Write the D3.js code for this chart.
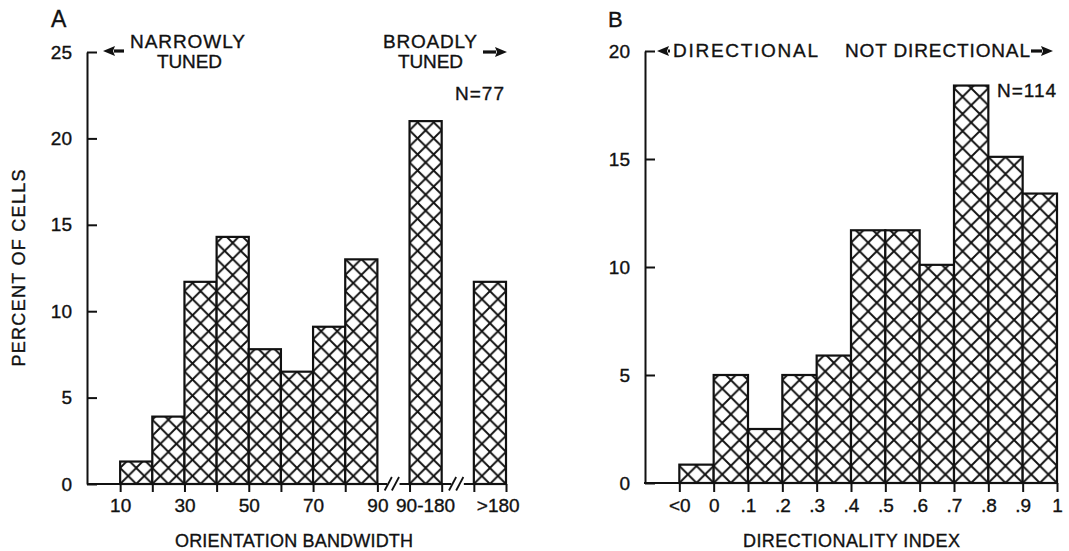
<!DOCTYPE html>
<html>
<head>
<meta charset="utf-8">
<script src="https://cdn.jsdelivr.net/npm/d3@7"></script>
<style>
  html, body { margin: 0; padding: 0; background: #fff; }
  svg { display: block; }
  text { font-family: "Liberation Sans", Arial, Helvetica, sans-serif; fill: #111; stroke: #111; stroke-width: 0.35px; }
</style>
</head>
<body>
<svg id="chart" width="1069" height="551"></svg>
<script>
// Panel A: orientation bandwidth histogram (N = 77)
const bandwidthBins = ["10-20", "20-30", "30-40", "40-50", "50-60", "60-70", "70-80", "80-90", "90-180", ">180"];
const bandwidthPercent = [1.3, 3.9, 11.7, 14.3, 7.8, 6.5, 9.1, 13.0, 21.0, 11.7];
const bandwidthTickLabels = ["10", "30", "50", "70", "90"];
const bandwidthYTicks = [0, 5, 10, 15, 20, 25];

// Panel B: directionality index histogram (N = 114)
const directionBins = ["<0", "0-.1", ".1-.2", ".2-.3", ".3-.4", ".4-.5", ".5-.6", ".6-.7", ".7-.8", ".8-.9", ".9-1"];
const directionPercent = [0.85, 5.0, 2.5, 5.0, 5.9, 11.7, 11.7, 10.1, 18.4, 15.1, 13.4];
const directionTickLabels = ["<0", "0", ".1", ".2", ".3", ".4", ".5", ".6", ".7", ".8", ".9", "1"];
const directionYTicks = [0, 5, 10, 15, 20];

const INK = "#111";
const svg = d3.select("#chart");
const defs = svg.append("defs");

// Bin slots along each x axis (one slot = one bin width)
// A: 10..90 in steps of 10 sit at slots 1..8; broken-axis bins follow after a gap slot each
const slotA = (d, i) => (i < 8 ? i + 1 : 10 + 2 * (i - 8));
// B: "<0" sits one slot left of 0, then tenths
const slotB = (d, i) => i - 1;

const xA = d3.scaleLinear().domain([0, 13]).range([88, 506]);
const yA = d3.scaleLinear().domain([0, 25]).range([484, 52]);
const xB = d3.scaleLinear().domain([-2, 10]).range([645, 1057]);
const yB = d3.scaleLinear().domain([0, 20]).range([483, 51]);

// Diamond cross-hatch, one cell = half a bin wide, anchored on the baseline
function makeHatch(id, x, y) {
  const h = (x(1) - x(0)) / 2;
  const p = defs.append("pattern")
    .attr("id", id)
    .attr("patternUnits", "userSpaceOnUse")
    .attr("x", x(0)).attr("y", y(0))
    .attr("width", h).attr("height", h);
  p.append("rect").attr("width", h).attr("height", h).attr("fill", "#fff");
  let d = "";
  for (let k = -1; k <= 1; k++) {
    d += `M${k * h},0L${k * h + h},${h}M${k * h},${h}L${k * h + h},0`;
  }
  p.append("path").attr("d", d).attr("stroke", INK).attr("stroke-width", 1.9).attr("fill", "none");
}
makeHatch("hatchA", xA, yA);
makeHatch("hatchB", xB, yB);

function drawBars(values, x, y, slot, hatch) {
  svg.append("g").selectAll("rect")
    .data(values)
    .join("rect")
    .attr("x", (d, i) => x(slot(d, i)))
    .attr("width", (d, i) => x(slot(d, i) + 1) - x(slot(d, i)))
    .attr("y", d => y(d))
    .attr("height", d => y(0) - y(d))
    .attr("fill", `url(#${hatch})`)
    .attr("stroke", INK)
    .attr("stroke-width", 2.2);
}

function styleAxis(g) {
  g.attr("font-family", null).attr("font-size", null);
  g.selectAll("path.domain").attr("stroke", INK).attr("stroke-width", 2);
  g.selectAll(".tick line").attr("stroke", INK).attr("stroke-width", 2);
  g.selectAll(".tick text").style("font-size", "19px").attr("fill", INK);
}

function yAxis(y, ticks, left) {
  const g = svg.append("g")
    .attr("transform", `translate(${left},0)`)
    .call(d3.axisLeft(y).tickValues(ticks).tickSizeInner(-10).tickSizeOuter(0).tickPadding(15).tickFormat(d3.format("d")));
  styleAxis(g);
}

function arrow(tipX, y, tailX) {
  const dir = tipX < tailX ? 1 : -1;
  const headLen = 12;
  svg.append("line")
    .attr("x1", tipX + dir * (headLen - 1)).attr("y1", y)
    .attr("x2", tailX).attr("y2", y)
    .attr("stroke", INK).attr("stroke-width", 3.2);
  svg.append("path")
    .attr("d", `M${tipX},${y}L${tipX + dir * headLen},${y - 5}L${tipX + dir * (headLen - 2)},${y}L${tipX + dir * headLen},${y + 5}Z`)
    .attr("fill", INK);
}

function label(x, y, txt, size, anchor, len) {
  const t = svg.append("text")
    .attr("x", x).attr("y", y)
    .attr("text-anchor", anchor || "start")
    .style("font-size", size + "px")
    .text(txt);
  if (len) t.attr("textLength", len).attr("lengthAdjust", "spacing");
  return t;
}

// Two-line caption kept in one text element
function caption(lines, size) {
  const t = svg.append("text").style("font-size", size + "px");
  lines.forEach(([txt, x, y, len]) => {
    t.append("tspan").attr("x", x).attr("y", y)
      .attr("textLength", len).attr("lengthAdjust", "spacing")
      .text(txt);
  });
}

// ---------- Panel A ----------
drawBars(bandwidthPercent, xA, yA, slotA, "hatchA");
yAxis(yA, bandwidthYTicks, xA(0) - 1);

const slotsA = d3.range(1, 14);
const gxA = svg.append("g")
  .attr("transform", `translate(0,${yA(0)})`)
  .call(d3.axisBottom(xA).tickValues(slotsA).tickSize(8).tickPadding(7)
    .tickFormat(d => (d <= 9 && d % 2 === 1) ? bandwidthTickLabels[(d - 1) / 2] : ""));
styleAxis(gxA);
gxA.select("path.domain").remove();

// broken baseline with // marks
[[0, 9.3], [9.72, 11.3], [11.72, 13]].forEach(([a, b]) => {
  svg.append("line")
    .attr("x1", xA(a) - 1).attr("x2", xA(b)).attr("y1", yA(0)).attr("y2", yA(0))
    .attr("stroke", INK).attr("stroke-width", 2);
});
[9.45, 11.45].forEach(s => {
  const cx = xA(s);
  [-3.6, 3.6].forEach(dx => {
    svg.append("line")
      .attr("x1", cx + dx - 3.6).attr("y1", yA(0) + 6.5)
      .attr("x2", cx + dx + 3.6).attr("y2", yA(0) - 7)
      .attr("stroke", INK).attr("stroke-width", 1.8);
  });
});

// labels for the broken-axis bins
label(xA(slotA(null, 8) + 0.5), 512, bandwidthBins[8], 19, "middle");
label(xA(slotA(null, 9)) + 3, 512, bandwidthBins[9], 19, "start");

label(51, 27, "A", 23);
caption([["NARROWLY", 130, 48, 115], ["TUNED", 157, 68, 65]], 19);
arrow(103, 51, 124);
caption([["BROADLY", 383, 48, 94], ["TUNED", 398, 68, 65]], 19);
arrow(507, 52, 483);
label(455, 100, "N=77", 19, "start").style("letter-spacing", "1px");
label(175, 547, "ORIENTATION  BANDWIDTH", 18, "start", 238);
svg.append("text")
  .attr("transform", "translate(25,268) rotate(-90)")
  .attr("text-anchor", "middle")
  .attr("textLength", 197).attr("lengthAdjust", "spacing")
  .style("font-size", "18px")
  .text("PERCENT  OF  CELLS");

// ---------- Panel B ----------
drawBars(directionPercent, xB, yB, slotB, "hatchB");
yAxis(yB, directionYTicks, xB(-2));

const gxB = svg.append("g")
  .attr("transform", `translate(0,${yB(0)})`)
  .call(d3.axisBottom(xB).tickValues(d3.range(-1, 11)).tickSize(9).tickPadding(7)
    .tickFormat((d, i) => directionTickLabels[i]));
styleAxis(gxB);
gxB.select("path.domain").remove();
svg.append("line")
  .attr("x1", xB(-2) - 1).attr("x2", xB(10)).attr("y1", yB(0)).attr("y2", yB(0))
  .attr("stroke", INK).attr("stroke-width", 2);

label(608, 27, "B", 22);
arrow(657, 51, 670);
label(673, 57, "DIRECTIONAL", 19, "start", 145);
label(845, 57, "NOT DIRECTIONAL", 19, "start", 185);
arrow(1053, 51, 1031);
label(997, 97, "N=114", 19, "start").style("letter-spacing", "1px");
label(743, 547, "DIRECTIONALITY  INDEX", 18, "start", 217);
</script>
</body>
</html>
